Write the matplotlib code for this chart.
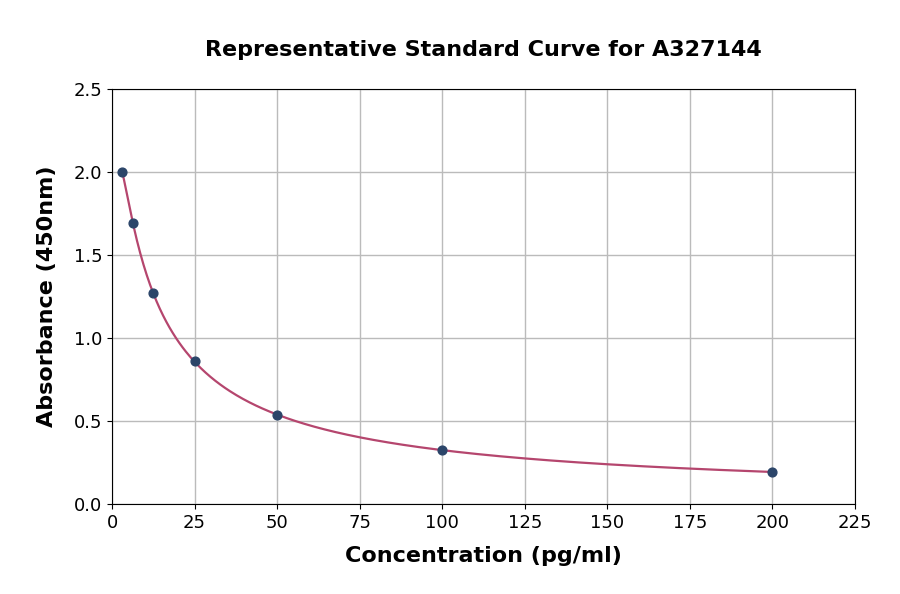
import numpy as np
import matplotlib
matplotlib.use('Agg')
import matplotlib.pyplot as plt

# standard points
conc = [3.125, 6.25, 12.5, 25, 50, 100, 200]
absorb = [2.0, 1.693, 1.271, 0.861, 0.536, 0.325, 0.193]

x_ticks = [0, 25, 50, 75, 100, 125, 150, 175, 200, 225]
y_ticks = [0.0, 0.5, 1.0, 1.5, 2.0, 2.5]

# smooth fitted curve (cubic in log-log space)
coef = np.polyfit(np.log(conc), np.log(absorb), 3)
xs = np.linspace(min(conc), max(conc), 400)
ys = np.exp(np.polyval(coef, np.log(xs)))

fig = plt.figure(figsize=(9, 5.94), dpi=100)
ax = fig.add_axes([112/900, 1 - 504/594, (855-112)/900, (504-89)/594])

ax.plot(xs, ys, color='#b5466e', lw=1.6, zorder=2)
ax.scatter(conc, absorb, s=40, color='#2b4569', zorder=3)

ax.set_xlim(0, 225)
ax.set_ylim(0, 2.5)
ax.set_xticks(x_ticks)
ax.set_yticks(y_ticks)
ax.set_yticklabels(['%.1f' % v for v in y_ticks])
ax.grid(True, color='#bbbbbb', lw=1.0)
ax.set_axisbelow(True)
ax.tick_params(labelsize=13)

ax.set_xlabel('Concentration (pg/ml)', fontsize=16, fontweight='bold', labelpad=10)
ax.set_ylabel('Absorbance (450nm)', fontsize=16, fontweight='bold', labelpad=12)
ax.set_title('Representative Standard Curve for A327144', fontsize=16, fontweight='bold', pad=24)

fig.savefig('out.png', dpi=100)
